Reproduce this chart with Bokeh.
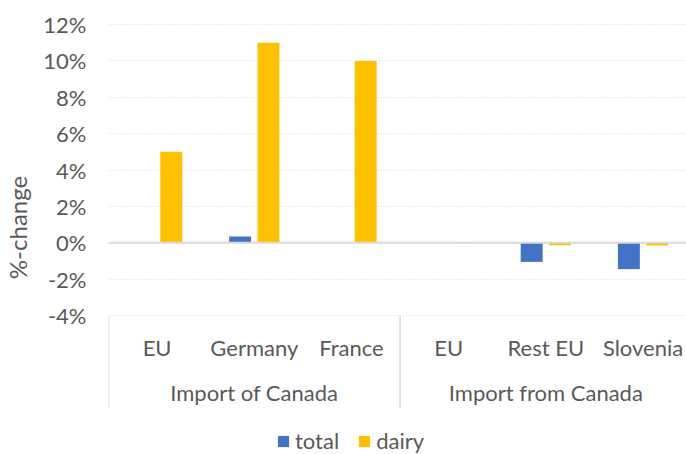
import numpy as np
from bokeh.plotting import figure
from bokeh.models import (ColumnDataSource, Range1d, FixedTicker, PrintfTickFormatter,
                          Span, Legend, LegendItem)
from bokeh.transform import dodge
from bokeh.core.properties import value
from bokeh.embed import file_html
from bokeh.resources import INLINE

# Percentage change by destination, grouped by trade direction
groups = ["Import of Canada", "Import from Canada"]
group_sizes = [3, 3]
categories = ["EU", "Germany", "France", "EU", "Rest EU", "Slovenia"]
total = [0.0, 0.35, 0.0, 0.0, -1.05, -1.45]
dairy = [5.0, 11.0, 10.0, -0.03, -0.13, -0.15]
y_ticks = [-4, -2, 0, 2, 4, 6, 8, 10, 12]

FONT = "Lato"
TEXT = "#595959"
GRID = "#d9d9d9"
BLUE = "#4472C4"
GOLD = "#FFC000"

x = np.arange(len(categories)) + 0.5
src = ColumnDataSource(dict(x=x, cat=categories, total=total, dairy=dairy))

p = figure(width=686, height=454, output_backend="svg", toolbar_location=None,
           x_range=Range1d(0, 5.947), y_range=Range1d(-11.64, 13.32),
           min_border_left=108, min_border_right=0, min_border_top=0,
           min_border_bottom=0, x_axis_location=None)
p.outline_line_color = None
p.background_fill_color = "white"
p.border_fill_color = "white"

# y axis with percent labels
yax = p.yaxis[0]
yax.ticker = FixedTicker(ticks=y_ticks)
yax.formatter = PrintfTickFormatter(format="%d%%")
yax.axis_line_color = None
yax.major_tick_line_color = None
yax.major_tick_out = 0
yax.major_tick_in = 0
yax.minor_tick_line_color = None
yax.minor_tick_out = 0
yax.major_label_standoff = 22
yax.major_label_text_font = FONT
yax.major_label_text_font_size = "22px"
yax.major_label_text_color = TEXT
yax.axis_label = "%-change"
yax.axis_label_text_font = FONT
yax.axis_label_text_font_size = "24px"
yax.axis_label_text_font_style = "normal"
yax.axis_label_text_color = TEXT
yax.axis_label_standoff = 8

p.xgrid.visible = False
p.ygrid.ticker = FixedTicker(ticks=y_ticks)
p.ygrid.grid_line_color = GRID
p.ygrid.grid_line_dash = "1 2"
p.ygrid.grid_line_width = 1.2

bw = 0.226
off = 0.146
r_total = p.vbar(x=dodge("x", -off), top="total", bottom=0, width=bw, source=src,
                 fill_color=BLUE, line_color=None)
r_dairy = p.vbar(x=dodge("x", off), top="dairy", bottom=0, width=bw, source=src,
                 fill_color=GOLD, line_color=None)

# zero line
p.add_layout(Span(location=0, dimension="width", line_color=GRID, line_width=2))

# category labels and group labels below the plot area
p.text(x="x", y=-5.76, text="cat", source=src, text_align="center",
       text_baseline="middle", text_font=value(FONT), text_font_size="22px",
       text_color=TEXT)

bounds = np.concatenate([[0], np.cumsum(group_sizes)])
centers = (bounds[:-1] + bounds[1:]) / 2
p.text(x=centers, y=[-8.23] * len(groups), text=groups, text_align="center",
       text_baseline="middle", text_font=value(FONT), text_font_size="22px",
       text_color=TEXT)
p.segment(x0=bounds, x1=bounds, y0=[-4] * len(bounds), y1=[-9.11] * len(bounds),
          line_color=GRID, line_width=1.5)

legend = Legend(items=[LegendItem(label="total", renderers=[r_total]),
                       LegendItem(label="dairy", renderers=[r_dairy])],
                orientation="horizontal", location=(168, 0),
                glyph_width=14, glyph_height=14, label_standoff=5, spacing=18,
                padding=0, margin=0, border_line_color=None,
                background_fill_alpha=0,
                label_text_font=FONT, label_text_font_size="22px",
                label_text_color=TEXT)
p.add_layout(legend)

open("out.html", "w").write(file_html(p, INLINE))
